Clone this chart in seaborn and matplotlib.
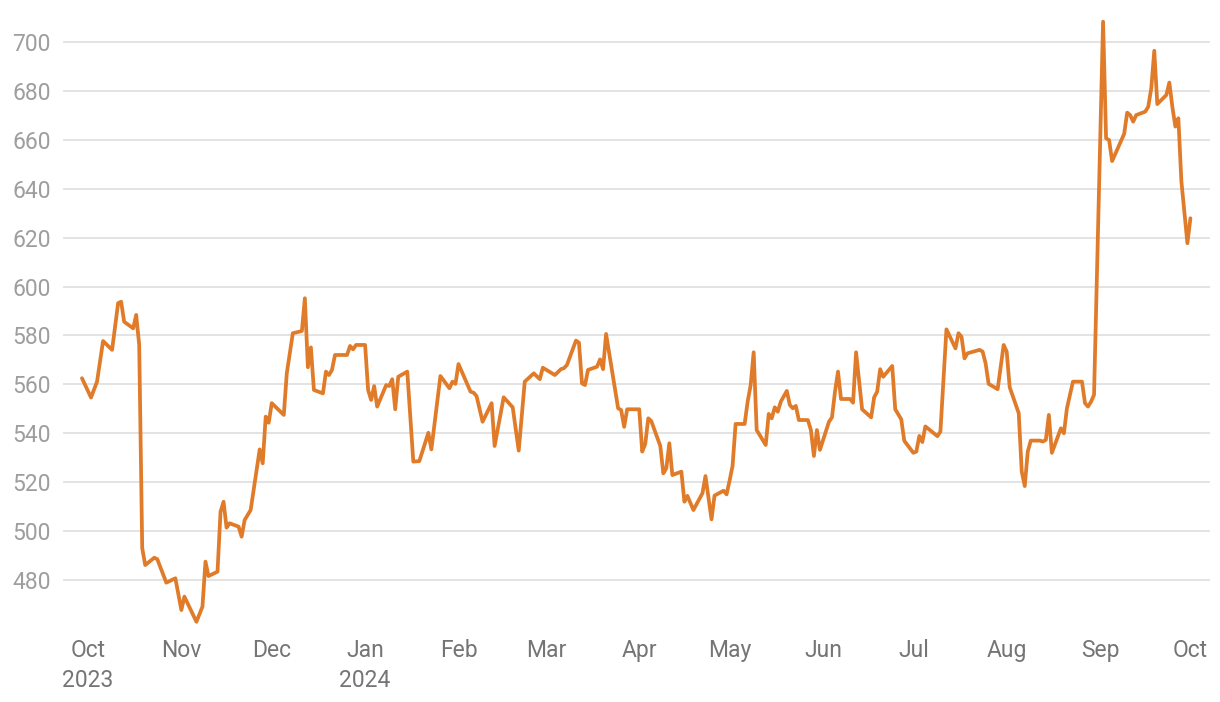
import pandas as pd
import seaborn as sns
import matplotlib.pyplot as plt

# values (daily closes)
dates = [
    "2023-09-29", "2023-10-02", "2023-10-04", "2023-10-06", "2023-10-09", "2023-10-11",
    "2023-10-12", "2023-10-13", "2023-10-16", "2023-10-17", "2023-10-18", "2023-10-19",
    "2023-10-20", "2023-10-23", "2023-10-24", "2023-10-27", "2023-10-30", "2023-11-01",
    "2023-11-02", "2023-11-06", "2023-11-08", "2023-11-09", "2023-11-10", "2023-11-13",
    "2023-11-14", "2023-11-15", "2023-11-16", "2023-11-17", "2023-11-20", "2023-11-21",
    "2023-11-22", "2023-11-24", "2023-11-27", "2023-11-28", "2023-11-29", "2023-11-30",
    "2023-12-01", "2023-12-05", "2023-12-06", "2023-12-08", "2023-12-11", "2023-12-12",
    "2023-12-13", "2023-12-14", "2023-12-15", "2023-12-18", "2023-12-19", "2023-12-20",
    "2023-12-21", "2023-12-22", "2023-12-26", "2023-12-27", "2023-12-28", "2023-12-29",
    "2024-01-01", "2024-01-02", "2024-01-03", "2024-01-04", "2024-01-05", "2024-01-08",
    "2024-01-09", "2024-01-10", "2024-01-11", "2024-01-12", "2024-01-15", "2024-01-17",
    "2024-01-19", "2024-01-22", "2024-01-23", "2024-01-26", "2024-01-29", "2024-01-30",
    "2024-01-31", "2024-02-01", "2024-02-05", "2024-02-06", "2024-02-07", "2024-02-09",
    "2024-02-12", "2024-02-13", "2024-02-16", "2024-02-19", "2024-02-21", "2024-02-23",
    "2024-02-26", "2024-02-28", "2024-02-29", "2024-03-04", "2024-03-06", "2024-03-07",
    "2024-03-08", "2024-03-11", "2024-03-12", "2024-03-13", "2024-03-14", "2024-03-15",
    "2024-03-18", "2024-03-19", "2024-03-20", "2024-03-21", "2024-03-25", "2024-03-26",
    "2024-03-27", "2024-03-28", "2024-04-01", "2024-04-02", "2024-04-03", "2024-04-04",
    "2024-04-05", "2024-04-08", "2024-04-09", "2024-04-10", "2024-04-11", "2024-04-12",
    "2024-04-15", "2024-04-16", "2024-04-17", "2024-04-19", "2024-04-22", "2024-04-23",
    "2024-04-25", "2024-04-26", "2024-04-29", "2024-04-30", "2024-05-01", "2024-05-02",
    "2024-05-03", "2024-05-06", "2024-05-07", "2024-05-08", "2024-05-09", "2024-05-10",
    "2024-05-13", "2024-05-14", "2024-05-15", "2024-05-16", "2024-05-17", "2024-05-18",
    "2024-05-20", "2024-05-21", "2024-05-22", "2024-05-23", "2024-05-24", "2024-05-27",
    "2024-05-28", "2024-05-29", "2024-05-30", "2024-05-31", "2024-06-03", "2024-06-04",
    "2024-06-05", "2024-06-06", "2024-06-07", "2024-06-10", "2024-06-11", "2024-06-12",
    "2024-06-14", "2024-06-17", "2024-06-18", "2024-06-19", "2024-06-20", "2024-06-21",
    "2024-06-24", "2024-06-25", "2024-06-27", "2024-06-28", "2024-07-01", "2024-07-02",
    "2024-07-03", "2024-07-04", "2024-07-05", "2024-07-09", "2024-07-10", "2024-07-12",
    "2024-07-15", "2024-07-16", "2024-07-17", "2024-07-18", "2024-07-19", "2024-07-23",
    "2024-07-24", "2024-07-25", "2024-07-26", "2024-07-29", "2024-07-31", "2024-08-01",
    "2024-08-02", "2024-08-05", "2024-08-06", "2024-08-07", "2024-08-08", "2024-08-09",
    "2024-08-12", "2024-08-13", "2024-08-14", "2024-08-15", "2024-08-16", "2024-08-19",
    "2024-08-20", "2024-08-21", "2024-08-23", "2024-08-26", "2024-08-27", "2024-08-28",
    "2024-08-29", "2024-08-30", "2024-09-02", "2024-09-03", "2024-09-04", "2024-09-05",
    "2024-09-09", "2024-09-10", "2024-09-11", "2024-09-12", "2024-09-13", "2024-09-16",
    "2024-09-17", "2024-09-18", "2024-09-19", "2024-09-20", "2024-09-23", "2024-09-24",
    "2024-09-25", "2024-09-26", "2024-09-27", "2024-09-28", "2024-09-30", "2024-10-01",
]
values = [
    562.5, 554.6, 561.1, 577.7, 574.1, 593.2,
    593.8, 585.6, 582.9, 588.4, 576.1, 493.0,
    486.1, 489.1, 488.5, 478.9, 480.7, 467.7,
    473.2, 462.9, 469.1, 487.5, 481.6, 483.4,
    507.9, 512.0, 501.4, 503.2, 501.8, 497.7,
    504.5, 508.6, 533.4, 527.7, 546.8, 544.3,
    552.3, 547.5, 564.5, 580.9, 581.8, 595.2,
    567.0, 575.1, 557.7, 556.3, 565.2, 563.8,
    565.9, 572.0, 572.0, 575.7, 574.3, 576.1,
    576.1, 557.7, 553.6, 559.3, 550.9, 559.7,
    559.3, 562.1, 549.8, 563.1, 565.2, 528.4,
    528.6, 540.2, 533.4, 563.4, 558.4, 561.1,
    560.2, 568.3, 557.0, 556.6, 555.2, 544.7,
    552.3, 534.8, 554.7, 550.6, 532.9, 561.1,
    564.5, 562.1, 566.8, 563.8, 566.2, 566.6,
    567.9, 577.9, 577.0, 560.4, 559.7, 565.9,
    567.2, 570.2, 566.2, 580.6, 550.2, 549.5,
    542.6, 549.8, 549.8, 532.5, 535.6, 546.1,
    545.0, 534.8, 523.6, 525.7, 535.9, 522.9,
    524.3, 512.0, 514.4, 508.6, 515.5, 522.5,
    504.8, 514.5, 516.5, 515.0, 520.6, 526.7,
    543.8, 543.8, 552.9, 559.7, 573.1, 541.3,
    535.2, 547.9, 546.1, 550.6, 548.8, 552.9,
    557.3, 551.6, 550.2, 551.2, 545.4, 545.4,
    541.3, 530.7, 541.3, 533.2, 544.7, 546.5,
    557.0, 565.2, 554.0, 554.0, 552.5, 573.1,
    549.8, 546.5, 554.7, 557.0, 566.2, 563.1,
    567.5, 549.8, 545.7, 536.9, 532.0, 532.5,
    538.9, 536.4, 542.8, 538.8, 540.7, 582.5,
    574.7, 580.9, 579.5, 570.6, 572.7, 574.1,
    573.4, 568.6, 560.2, 558.0, 576.1, 573.4,
    558.8, 548.2, 524.3, 518.4, 532.5, 537.0,
    537.0, 536.6, 537.3, 547.5, 532.0, 542.0,
    540.0, 550.2, 561.1, 561.1, 552.3, 550.9,
    552.9, 555.7, 708.3, 660.6, 659.9, 651.3,
    662.4, 671.1, 670.1, 667.4, 670.1, 671.5,
    673.5, 681.1, 696.4, 674.6, 678.3, 683.4,
    673.5, 665.4, 668.8, 643.0, 617.7, 627.9,
]
tick_months = pd.date_range("2023-10-01", "2024-10-01", freq="MS")
tick_labels = ["Oct\n2023", "Nov", "Dec", "Jan\n2024", "Feb", "Mar", "Apr",
               "May", "Jun", "Jul", "Aug", "Sep", "Oct"]
y_ticks = list(range(480, 701, 20))

df = pd.DataFrame({"date": pd.to_datetime(dates), "value": values})

sns.set_style("white")
plt.rcParams["font.family"] = ["Roboto", "DejaVu Sans"]

fig = plt.figure(figsize=(12.2, 7.02), dpi=100)
ax = fig.add_axes([63 / 1220, 1 - 624 / 702, (1210 - 63) / 1220, (624 - 17.5) / 702])

sns.lineplot(data=df, x="date", y="value", ax=ax, color="#e07b29", linewidth=2.7)

start = pd.Timestamp("2023-10-01")
ax.set_xlim(start - pd.Timedelta(days=8.3), start + pd.Timedelta(days=372.5))
ax.set_ylim(462, 710)

ax.set_xticks(tick_months)
ax.set_xticklabels(tick_labels, linespacing=1.4)
ax.set_yticks(y_ticks)
ax.set_yticklabels([str(v) for v in y_ticks])

ax.tick_params(axis="x", length=0, pad=11, labelsize=16.5, labelcolor="#757575")
ax.tick_params(axis="y", length=0, pad=9, labelsize=16.5, labelcolor="#9e9e9e")

ax.yaxis.grid(True, color="#e0e0e0", linewidth=1.3)
ax.xaxis.grid(False)
ax.set_axisbelow(True)
for s in ax.spines.values():
    s.set_visible(False)
ax.set_xlabel("")
ax.set_ylabel("")

fig.savefig("out.png", dpi=100)
